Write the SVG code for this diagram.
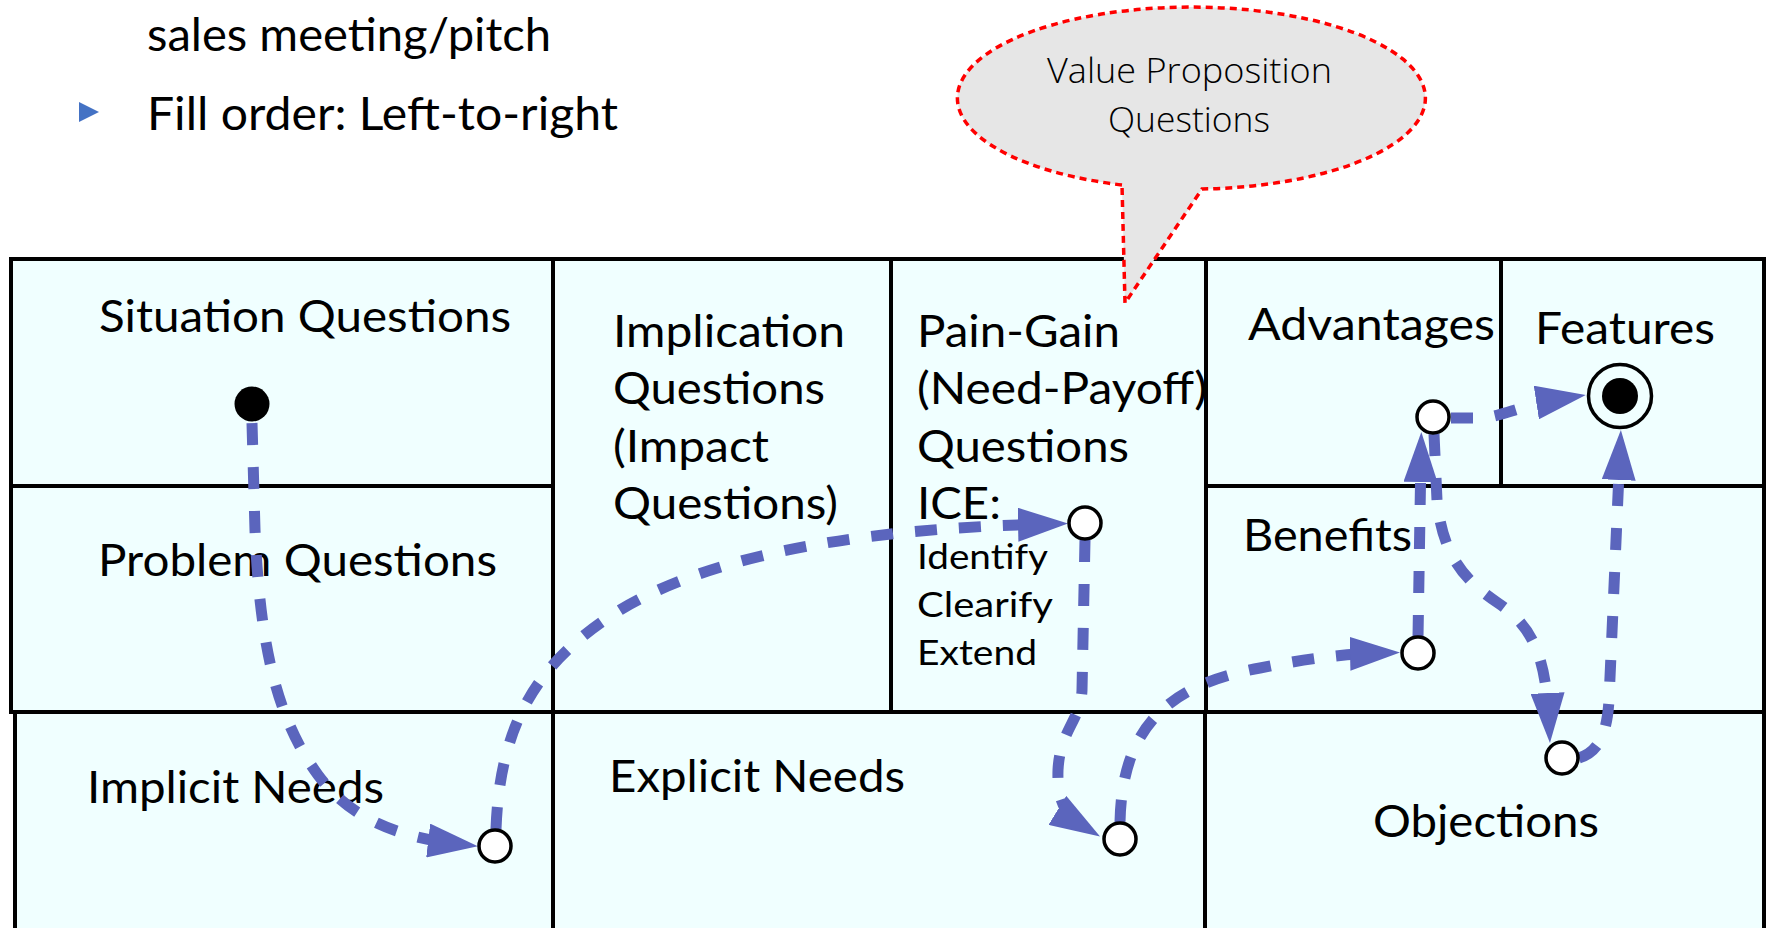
<svg xmlns="http://www.w3.org/2000/svg" width="1766" height="928" viewBox="0 0 1766 928">
<defs>
<style>
.cell{fill:#F0FFFF;stroke:#000;stroke-width:4}
.t{font-family:Lato,"Liberation Sans",sans-serif;font-size:44.5px;fill:#000}
.s{font-size:35.5px}
.hd{font-family:Lato,"Liberation Sans",sans-serif;font-size:46px;fill:#000}
.conn{fill:none;stroke:#5B65BD;stroke-width:11;stroke-dasharray:22 22;marker-end:url(#ah)}
.st{fill:#fff;stroke:#000;stroke-width:3.5}
.bt{font-family:"Open Sans","DejaVu Sans",sans-serif;font-weight:300;font-size:34px;fill:#000}
</style>
<marker id="ah" markerUnits="userSpaceOnUse" markerWidth="50" markerHeight="34" viewBox="0 0 50 34" refX="30" refY="17" orient="auto">
<path d="M0,0 L50,17 L0,34 Z" fill="#5B65BD"/>
</marker>
</defs>
<rect width="1766" height="928" fill="#fff"/>

<g id="header">
<text class="hd" x="147" y="51" textLength="404" lengthAdjust="spacingAndGlyphs">sales meeting/pitch</text>
<polygon points="79,102 99,112 79,122" fill="#4472C4"/>
<text class="hd" x="147" y="130" textLength="471" lengthAdjust="spacingAndGlyphs">Fill order: Left-to-right</text>
</g>

<g id="situation"><rect class="cell" x="11" y="259" width="542" height="227"/><text class="t" x="99" y="332" textLength="412" lengthAdjust="spacingAndGlyphs">Situation Questions</text></g>
<g id="problem"><rect class="cell" x="11" y="486" width="542" height="226"/><text class="t" x="98" y="576" textLength="399" lengthAdjust="spacingAndGlyphs">Problem Questions</text></g>
<g id="implication"><rect class="cell" x="553" y="259" width="338" height="453"/>
<text class="t" x="613" y="347" textLength="232" lengthAdjust="spacingAndGlyphs">Implication</text>
<text class="t" x="613" y="404" textLength="212" lengthAdjust="spacingAndGlyphs">Questions</text>
<text class="t" x="613" y="462" textLength="156" lengthAdjust="spacingAndGlyphs">(Impact</text>
<text class="t" x="613" y="519" textLength="225" lengthAdjust="spacingAndGlyphs">Questions)</text></g>
<g id="paingain"><rect class="cell" x="891" y="259" width="315" height="453"/>
<text class="t" x="917" y="347" textLength="203" lengthAdjust="spacingAndGlyphs">Pain-Gain</text>
<text class="t" x="917" y="404" textLength="290" lengthAdjust="spacingAndGlyphs">(Need-Payoff)</text>
<text class="t" x="917" y="462" textLength="212" lengthAdjust="spacingAndGlyphs">Questions</text>
<text class="t" x="917" y="519" textLength="84" lengthAdjust="spacingAndGlyphs">ICE:</text>
<text class="t s" x="917" y="569" textLength="131" lengthAdjust="spacingAndGlyphs">Identify</text>
<text class="t s" x="917" y="617" textLength="136" lengthAdjust="spacingAndGlyphs">Clearify</text>
<text class="t s" x="917" y="665" textLength="120" lengthAdjust="spacingAndGlyphs">Extend</text></g>
<g id="advantages"><rect class="cell" x="1206" y="259" width="295" height="227"/><text class="t" x="1248" y="340" textLength="247" lengthAdjust="spacingAndGlyphs">Advantages</text></g>
<g id="features"><rect class="cell" x="1501" y="259" width="263" height="227"/><text class="t" x="1535" y="344" textLength="180" lengthAdjust="spacingAndGlyphs">Features</text></g>
<g id="benefits"><rect class="cell" x="1206" y="486" width="558" height="226"/><text class="t" x="1243" y="551" textLength="169" lengthAdjust="spacingAndGlyphs">Benefits</text></g>
<g id="implicit"><rect class="cell" x="15" y="712" width="538" height="240"/><text class="t" x="87" y="803" textLength="297" lengthAdjust="spacingAndGlyphs">Implicit Needs</text></g>
<g id="explicit"><rect class="cell" x="553" y="712" width="652" height="240"/><text class="t" x="609" y="792" textLength="296" lengthAdjust="spacingAndGlyphs">Explicit Needs</text></g>
<g id="objections"><rect class="cell" x="1205" y="712" width="559" height="240"/><text class="t" x="1373" y="837" textLength="226" lengthAdjust="spacingAndGlyphs">Objections</text></g>

<g id="connectors">
<path class="conn" d="M252,423 L255,530 C260,650 278,720 318,775 C348,815 390,836 458,844"/>
<path class="conn" d="M496,829 C500,720 540,660 620,610 C720,550 880,528 1048,524"/>
<path class="conn" d="M1085,540 L1082,690 C1081,720 1060,730 1058,770 C1057,800 1065,815 1083,826"/>
<path class="conn" d="M1120,822 C1122,730 1165,685 1260,668 C1300,660 1340,654 1380,653"/>
<path class="conn" d="M1418,637 L1421,452"/>
<path class="conn" d="M1434,434 L1437,500 C1442,550 1460,578 1498,603 C1535,628 1546,660 1549,723"/>
<path class="conn" d="M1579,758 C1598,752 1607,735 1609,700 L1620,450"/>
<path class="conn" d="M1451,418 L1478,418 C1500,418 1520,405 1566,398"/>
</g>

<g id="start"><circle cx="252" cy="404" r="17.5" fill="#000"/></g>
<g id="n1"><circle class="st" cx="495" cy="846" r="16"/></g>
<g id="n2"><circle class="st" cx="1085" cy="523" r="16"/></g>
<g id="n3"><circle class="st" cx="1120" cy="839" r="16"/></g>
<g id="n4"><circle class="st" cx="1418" cy="653" r="16"/></g>
<g id="n5"><circle class="st" cx="1562" cy="758" r="16"/></g>
<g id="n6"><circle class="st" cx="1433" cy="417" r="16"/></g>
<g id="end"><circle cx="1620" cy="396" r="31.5" fill="none" stroke="#000" stroke-width="3.5"/><circle cx="1620" cy="396" r="18" fill="#000"/></g>

<g id="bubble">
<path d="M1122,185 A234,91 0 1 1 1202,189 L1125,303 Z" fill="#E6E6E6" stroke="#FF0000" stroke-width="3.5" stroke-dasharray="7 5"/>
<text class="bt" x="1047" y="83" textLength="285" lengthAdjust="spacingAndGlyphs">Value Proposition</text>
<text class="bt" x="1108" y="132" textLength="162" lengthAdjust="spacingAndGlyphs">Questions</text>
</g>
</svg>
